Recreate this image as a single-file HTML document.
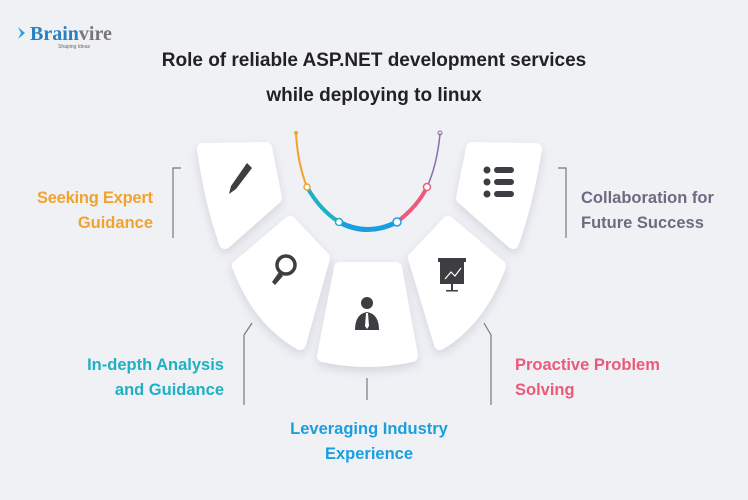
<!DOCTYPE html>
<html><head><meta charset="utf-8"><style>
html,body{margin:0;padding:0;background:#f0f1f5;}
svg{display:block;font-family:"Liberation Sans",sans-serif;}
</style></head><body>
<svg width="748" height="500" viewBox="0 0 748 500" xmlns="http://www.w3.org/2000/svg">
<defs>
<filter id="sh" x="-30%" y="-30%" width="160%" height="160%"><feDropShadow dx="0" dy="4" stdDeviation="5" flood-color="#9aa0b0" flood-opacity="0.35"/></filter>
</defs>
<rect width="748" height="500" fill="#f0f1f5"/>
<!-- logo -->
<path d="M18 27 L25 33 L18 39 L21 33 Z" fill="#2d9fd8"/>
<text x="30" y="40" font-size="20" font-weight="bold" fill="#2a7fc0" font-family="Liberation Serif,serif">Brain<tspan fill="#777">vire</tspan></text>
<text x="58" y="48" font-size="5" fill="#666">Shaping Ideas</text>
<!-- title -->
<text x="374" y="66" font-size="19" font-weight="bold" fill="#222" text-anchor="middle">Role of reliable ASP.NET development services</text>
<text x="374" y="101" font-size="19" font-weight="bold" fill="#222" text-anchor="middle">while deploying to linux</text>
<!-- cards -->
<g fill="#fff" stroke="#fff" stroke-width="12" stroke-linejoin="round" filter="url(#sh)">
<path d="M203 149 L266 148 L276 198 L225 243 Q210 200 203 149 Z"/>
<path d="M238 266 L290 222 L324 258 L300 344 Q258 320 238 266 Z"/>
<path d="M340 268 L396 268 L412 356 Q367 366 323 356 Z"/>
<path d="M414 258 L448 222 L500 266 Q480 320 440 344 Z"/>
<path d="M472 148 L536 149 Q528 200 513 243 L462 198 Z"/>
</g>
<!-- icons -->
<g fill="#3d3d42">
<path d="M247 163 L252 168 L236 189 L229 194 L231 186 Z"/>
<circle cx="286" cy="265" r="9" fill="none" stroke="#3d3d42" stroke-width="3.5"/>
<path d="M279 272 L272 282 L275 285 L283 276 Z"/>
<circle cx="367" cy="303" r="6"/>
<path d="M355 330 Q355 314 367 312 Q379 314 379 330 Z"/>
<path d="M366 313 L368 313 L369 326 L367 329 L365 326 Z" fill="#fff"/>
<rect x="438" y="258" width="28" height="4"/>
<rect x="440" y="262" width="24" height="22"/>
<path d="M445 279 L451 272 L455 276 L461 268" stroke="#fff" stroke-width="1.2" fill="none"/>
<rect x="451" y="284" width="2" height="6"/><rect x="446" y="290" width="12" height="1.5"/>
<circle cx="487" cy="170" r="3.5"/><circle cx="487" cy="182" r="3.5"/><circle cx="487" cy="194" r="3.5"/>
<rect x="494" y="167" width="20" height="6" rx="3"/><rect x="494" y="179" width="20" height="6" rx="3"/><rect x="494" y="191" width="20" height="6" rx="3"/>
</g>
<!-- arc -->
<g fill="none" stroke-linecap="round">
<path d="M296 134 Q298 165 307 187" stroke="#f0a330" stroke-width="2"/>
<path d="M307 187 Q320 210 339 222" stroke="#1fb0c4" stroke-width="4"/>
<path d="M339 222 Q367 237 397 222" stroke="#1b9ee0" stroke-width="5"/>
<path d="M397 222 Q418 206 427 187" stroke="#ec5a7a" stroke-width="4"/>
<path d="M427 187 Q437 165 440 134" stroke="#8a6fa8" stroke-width="1.5"/>
</g>
<circle cx="296" cy="133" r="2" fill="#f0a330"/>
<circle cx="440" cy="133" r="2" fill="none" stroke="#8a6fa8"/>
<circle cx="307" cy="187" r="3" fill="#fff" stroke="#f0a330" stroke-width="1.5"/>
<circle cx="339" cy="222" r="3.5" fill="#fff" stroke="#1fb0c4" stroke-width="1.5"/>
<circle cx="397" cy="222" r="4" fill="#fff" stroke="#1b9ee0" stroke-width="1.5"/>
<circle cx="427" cy="187" r="3.5" fill="#fff" stroke="#ec5a7a" stroke-width="1.5"/>
<!-- connector lines -->
<g stroke="#777" stroke-width="1.2" fill="none">
<path d="M181 168 L173 168 L173 238"/>
<path d="M558 168 L566 168 L566 238"/>
<path d="M252 323 L244 335 L244 405"/>
<path d="M484 323 L491 335 L491 405"/>
<path d="M367 378 L367 400"/>
</g>
<!-- labels -->
<g font-size="16.5" font-weight="bold">
<text x="153" y="203" fill="#f0a330" text-anchor="end" textLength="116">Seeking Expert</text>
<text x="153" y="228" fill="#f0a330" text-anchor="end">Guidance</text>
<text x="581" y="203" fill="#6e6a80">Collaboration for</text>
<text x="581" y="228" fill="#6e6a80">Future Success</text>
<text x="224" y="370" fill="#1fb0c4" text-anchor="end">In-depth Analysis</text>
<text x="224" y="395" fill="#1fb0c4" text-anchor="end">and Guidance</text>
<text x="515" y="370" fill="#ec5a7a">Proactive Problem</text>
<text x="515" y="395" fill="#ec5a7a">Solving</text>
<text x="369" y="434" fill="#1b9ee0" text-anchor="middle">Leveraging Industry</text>
<text x="369" y="459" fill="#1b9ee0" text-anchor="middle">Experience</text>
</g>
</svg>
</body></html>
